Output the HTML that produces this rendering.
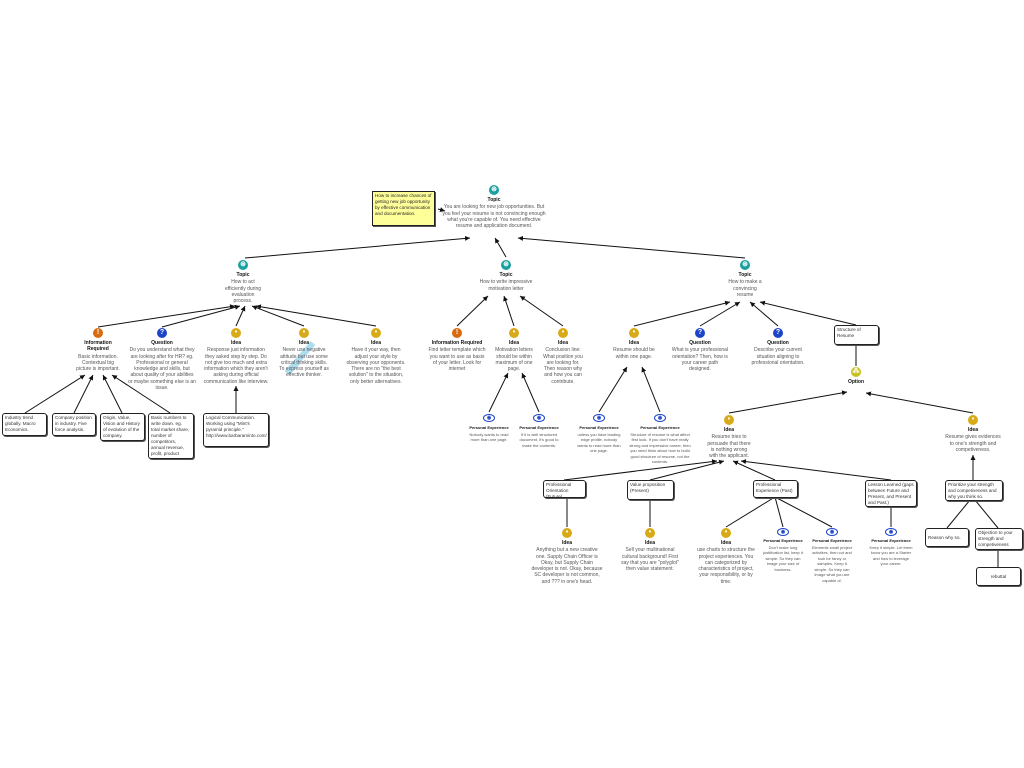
<!DOCTYPE html>
<html><head><meta charset="utf-8"><style>
body{margin:0;width:1024px;height:768px;background:#fff;position:relative;overflow:hidden;font-family:"Liberation Sans",sans-serif;color:#555}
.t{position:absolute;font-size:5px;line-height:6.3px;text-align:center;transform:translateX(-50%)}
.t b{display:block;font-size:5px;color:#111;margin-bottom:1px}
.i{position:absolute;width:10px;height:10px;border-radius:50%;transform:translate(-50%,-50%);color:#fff;font-size:7px;line-height:10px;text-align:center;font-weight:bold}
.tp{background:#1aa0a0}.in{background:#d86a10}.q{background:#1b44c8}.id{background:#d8aa18}.op{background:#c8c020}
.ey{background:none;color:#1b44c8;border:1px solid #1b44c8;width:10px;height:6px;border-radius:50%;line-height:6px;font-size:5px}
.bx{position:absolute;border:1.3px solid #222;border-radius:3px;background:#fff;font-size:4.6px;line-height:6px;padding:1px 2px;box-shadow:1px 1px 0 #555;box-sizing:border-box;color:#333;overflow:hidden;text-align:left}
</style></head><body>
<svg width="1024" height="768" style="position:absolute;left:0;top:0">
<defs><marker id="a" markerWidth="6" markerHeight="6" refX="5" refY="3" orient="auto"><path d="M0,0.5 L5,3 L0,5.5z" fill="#111"/></marker></defs>
<g stroke="#111" stroke-width="1" fill="none" marker-end="url(#a)">
<line x1="245" y1="258" x2="470" y2="238"/>
<line x1="506" y1="257" x2="495" y2="238"/>
<line x1="745" y1="258" x2="518" y2="238"/>
<line x1="98" y1="327" x2="235" y2="306"/>
<line x1="162" y1="327" x2="240" y2="306"/>
<line x1="236" y1="326" x2="245" y2="306"/>
<line x1="304" y1="326" x2="252" y2="306"/>
<line x1="376" y1="326" x2="256" y2="306"/>
<line x1="457" y1="326" x2="488" y2="296"/>
<line x1="514" y1="326" x2="504" y2="296"/>
<line x1="563" y1="326" x2="520" y2="296"/>
<line x1="634" y1="326" x2="730" y2="302"/>
<line x1="700" y1="326" x2="740" y2="302"/>
<line x1="778" y1="326" x2="750" y2="302"/>
<line x1="856" y1="325" x2="760" y2="302"/>
<line x1="25" y1="413" x2="85" y2="375"/>
<line x1="74" y1="413" x2="93" y2="375"/>
<line x1="122" y1="413" x2="103" y2="375"/>
<line x1="170" y1="413" x2="112" y2="375"/>
<line x1="236" y1="413" x2="236" y2="386"/>
<line x1="489" y1="412" x2="508" y2="373"/>
<line x1="539" y1="412" x2="522" y2="373"/>
<line x1="599" y1="412" x2="627" y2="367"/>
<line x1="660" y1="412" x2="642" y2="367"/>
<line x1="729" y1="413" x2="847" y2="392"/>
<line x1="973" y1="413" x2="866" y2="393"/>
<line x1="564" y1="480" x2="717" y2="461"/>
<line x1="650" y1="480" x2="724" y2="461"/>
<line x1="775" y1="480" x2="733" y2="461"/>
<line x1="891" y1="480" x2="741" y2="461"/>
<line x1="973" y1="480" x2="973" y2="455"/>
<line x1="438" y1="209" x2="445" y2="211"/>
</g>
<g stroke="#111" stroke-width="1" fill="none">
<line x1="856" y1="345" x2="856" y2="366"/>
<line x1="567" y1="497" x2="567" y2="527"/>
<line x1="650" y1="500" x2="650" y2="527"/>
<line x1="775" y1="497" x2="726" y2="527"/>
<line x1="775" y1="497" x2="783" y2="527"/>
<line x1="775" y1="497" x2="832" y2="527"/>
<line x1="891" y1="507" x2="891" y2="527"/>
<line x1="970" y1="500" x2="947" y2="528"/>
<line x1="975" y1="500" x2="998" y2="528"/>
<line x1="998" y1="549" x2="998" y2="567"/>
</g>
<path d="M287,373 L298,362 M287,373 L313,343" stroke="#8cd0e8" stroke-width="6" opacity=".7"/>
</svg>

<div class="bx" style="left:372px;top:191px;width:63px;height:35px;background:#ffff99;border-radius:0;color:#222">How to increase chances of getting new job opportunity by effective communication and documentation.</div>

<div class="i tp" style="left:494px;top:190px">⊛</div>
<div class="t" style="left:494px;top:197px;width:108px"><b>Topic</b>You are looking for new job opportunities. But you feel your resume is not convincing enough what you're capable of. You need effective resume and application document.</div>

<div class="i tp" style="left:243px;top:265px">⊛</div>
<div class="t" style="left:243px;top:272px;width:40px"><b>Topic</b>How to act efficiently during evaluation process.</div>
<div class="i tp" style="left:506px;top:265px">⊛</div>
<div class="t" style="left:506px;top:272px;width:54px"><b>Topic</b>How to write impressive motivation letter</div>
<div class="i tp" style="left:745px;top:265px">⊛</div>
<div class="t" style="left:745px;top:272px;width:36px"><b>Topic</b>How to make a convincing resume</div>

<div class="i in" style="left:98px;top:333px">!</div>
<div class="t" style="left:98px;top:340px;width:44px"><b>Information Required</b>Basic information. Contextual big picture is important.</div>
<div class="i q" style="left:162px;top:333px">?</div>
<div class="t" style="left:162px;top:340px;width:68px"><b>Question</b>Do you understand what they are looking after for HR? eg. Professional or general knowledge and skills, but about quality of your abilities or maybe something else is an issue.</div>
<div class="i id" style="left:236px;top:333px">•</div>
<div class="t" style="left:236px;top:340px;width:68px"><b>Idea</b>Response just information they asked step by step. Do not give too much and extra information which they aren't asking during official communication like interview.</div>
<div class="i id" style="left:304px;top:333px">•</div>
<div class="t" style="left:304px;top:340px;width:50px"><b>Idea</b>Never use negative attitude but use some critical thinking skills. To express yourself as effective thinker.</div>
<div class="i id" style="left:376px;top:333px">•</div>
<div class="t" style="left:376px;top:340px;width:62px"><b>Idea</b>Have it your way, then adjust your style by observing your opponents. There are no "the best solution" to the situation, only better alternatives.</div>

<div class="i in" style="left:457px;top:333px">!</div>
<div class="t" style="left:457px;top:340px;width:58px"><b>Information Required</b>Find letter template which you want to use as basis of your letter. Look for internet</div>
<div class="i id" style="left:514px;top:333px">•</div>
<div class="t" style="left:514px;top:340px;width:38px"><b>Idea</b>Motivation letters should be within maximum of one page.</div>
<div class="i id" style="left:563px;top:333px">•</div>
<div class="t" style="left:563px;top:340px;width:40px"><b>Idea</b>Conclusion line: What position you are looking for. Then reason why and how you can contribute.</div>

<div class="i id" style="left:634px;top:333px">•</div>
<div class="t" style="left:634px;top:340px;width:44px"><b>Idea</b>Resume should be within one page.</div>
<div class="i q" style="left:700px;top:333px">?</div>
<div class="t" style="left:700px;top:340px;width:58px"><b>Question</b>What is your professional orientation? Then, how is your career path designed.</div>
<div class="i q" style="left:778px;top:333px">?</div>
<div class="t" style="left:778px;top:340px;width:64px"><b>Question</b>Describe your current situation aligning to professional orientation.</div>
<div class="bx" style="left:834px;top:325px;width:45px;height:20px">Structure of Resume</div>

<div class="i op" style="left:856px;top:372px">⁂</div>
<div class="t" style="left:856px;top:379px;width:30px"><b>Option</b></div>

<div class="bx" style="left:2px;top:413px;width:45px;height:23px">Industry trend globally. Macro Economics.</div>
<div class="bx" style="left:52px;top:413px;width:44px;height:23px">Company position in industry. Five force analysis.</div>
<div class="bx" style="left:100px;top:413px;width:45px;height:28px">Origin, Value, Vision and History of evolution of the company.</div>
<div class="bx" style="left:148px;top:413px;width:46px;height:46px">Basic numbers to write down. eg. total market share, number of competitors, annual revenue, profit, product price, etc.</div>
<div class="bx" style="left:203px;top:413px;width:66px;height:34px">Logical Communication. Working using "Mint's pyramid principle." http://www.barbaraminto.com/</div>

<div class="i ey" style="left:489px;top:418px">◉</div>
<div class="t" style="left:489px;top:425px;width:44px;font-size:4px;line-height:5.5px"><b style="font-size:4px">Personal Experience</b>Nobody wants to read more than one page.</div>
<div class="i ey" style="left:539px;top:418px">◉</div>
<div class="t" style="left:539px;top:425px;width:44px;font-size:4px;line-height:5.5px"><b style="font-size:4px">Personal Experience</b>If it is well structured document, it's good to make the contents.</div>
<div class="i ey" style="left:599px;top:418px">◉</div>
<div class="t" style="left:599px;top:425px;width:44px;font-size:4px;line-height:5.5px"><b style="font-size:4px">Personal Experience</b>unless you have leading edge profile, nobody wants to read more than one page.</div>
<div class="i ey" style="left:660px;top:418px">◉</div>
<div class="t" style="left:660px;top:425px;width:66px;font-size:4px;line-height:5.5px"><b style="font-size:4px">Personal Experience</b>Structure of resume is what affect first look. If you don't have really strong and impressive career, then you need think about how to build good structure of resume, not the contents.</div>

<div class="i id" style="left:729px;top:420px">•</div>
<div class="t" style="left:729px;top:427px;width:44px"><b>Idea</b>Resume tries to persuade that there is nothing wrong with the applicant.</div>
<div class="i id" style="left:973px;top:420px">•</div>
<div class="t" style="left:973px;top:427px;width:56px"><b>Idea</b>Resume gives evidences to one's strength and competiveness.</div>

<div class="bx" style="left:543px;top:480px;width:43px;height:18px">Professional Orientation (Future)</div>
<div class="bx" style="left:627px;top:480px;width:47px;height:20px">Value proposition (Present)</div>
<div class="bx" style="left:753px;top:480px;width:45px;height:18px">Professional Experience (Past)</div>
<div class="bx" style="left:865px;top:480px;width:52px;height:27px">Lesson Learned (gaps between Future and Present, and Present and Past.)</div>
<div class="bx" style="left:945px;top:480px;width:58px;height:21px">Prioritize your strength and competiveness and why you think so.</div>

<div class="i id" style="left:567px;top:533px">•</div>
<div class="t" style="left:567px;top:540px;width:72px"><b>Idea</b>Anything but a new creative one. Supply Chain Officer is Okay, but Supply Chain developer is not. Okay, because SC developer is not common, and ??? in one's head.</div>
<div class="i id" style="left:650px;top:533px">•</div>
<div class="t" style="left:650px;top:540px;width:58px"><b>Idea</b>Sell your multinational cultural background! First say that you are "polyglot" then value statement.</div>
<div class="i id" style="left:726px;top:533px">•</div>
<div class="t" style="left:726px;top:540px;width:58px"><b>Idea</b>use charts to structure the project experiences. You can categorized by characteristics of project, your responsibility, or by time.</div>
<div class="i ey" style="left:783px;top:532px">◉</div>
<div class="t" style="left:783px;top:538px;width:40px;font-size:4px;line-height:5.5px"><b style="font-size:4px">Personal Experience</b>Don't make long justification list, keep it simple. So they can image your size of business.</div>
<div class="i ey" style="left:832px;top:532px">◉</div>
<div class="t" style="left:832px;top:538px;width:42px;font-size:4px;line-height:5.5px"><b style="font-size:4px">Personal Experience</b>Elements small project activities, then cut and look for fancy or samples. Keep it simple. So they can image what you are capable of.</div>
<div class="i ey" style="left:891px;top:532px">◉</div>
<div class="t" style="left:891px;top:538px;width:44px;font-size:4px;line-height:5.5px"><b style="font-size:4px">Personal Experience</b>Keep it simple. Let them know you are a Starter and how to leverage your career.</div>

<div class="bx" style="left:925px;top:528px;width:44px;height:19px;line-height:16px">Reason why so.</div>
<div class="bx" style="left:975px;top:528px;width:48px;height:22px">Objection to your strength and competiveness</div>
<div class="bx" style="left:976px;top:567px;width:45px;height:19px;line-height:16px;text-align:center">rebuttal</div>
</body></html>
